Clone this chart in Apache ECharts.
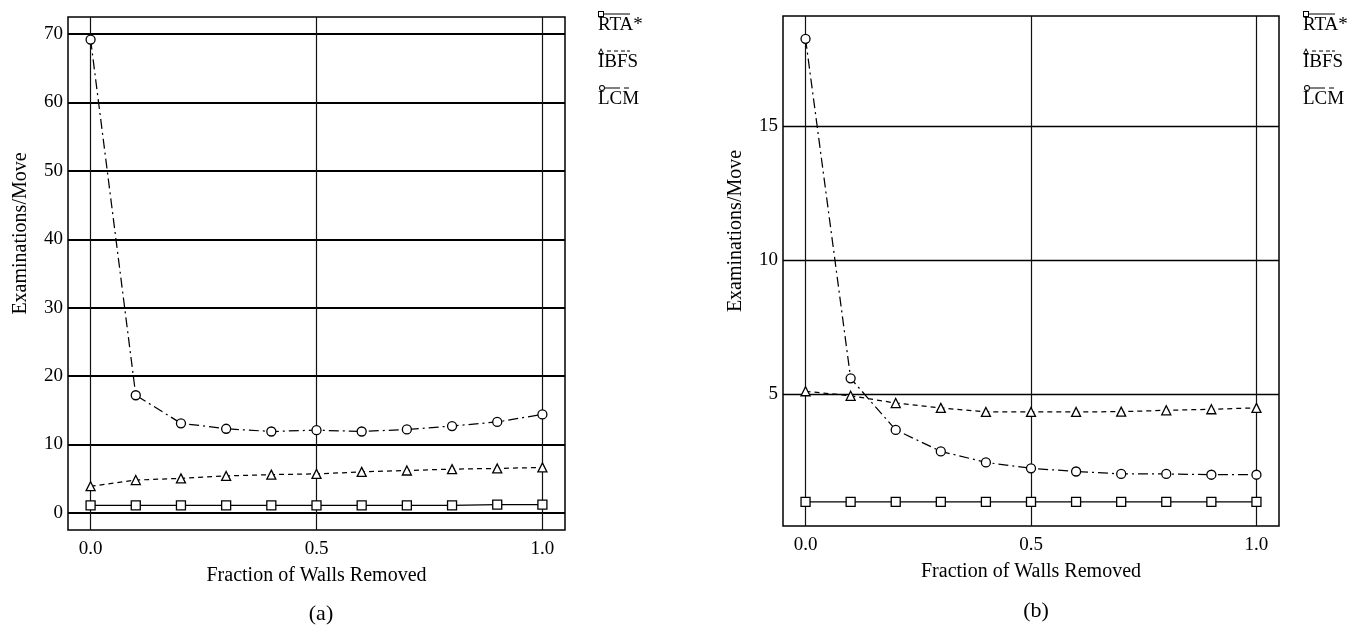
<!DOCTYPE html>
<html>
<head>
<meta charset="utf-8">
<script src="https://cdn.jsdelivr.net/npm/echarts@6/dist/echarts.min.js"></script>
<style>
html,body{margin:0;padding:0;background:#fff;}
#chart{width:1351px;height:630px;}
</style>
</head>
<body>
<div id="chart"></div>
<script>
// ---- data ----
const fractions = [0.0, 0.1, 0.2, 0.3, 0.4, 0.5, 0.6, 0.7, 0.8, 0.9, 1.0];
const seriesNames = ['RTA*', 'IBFS', 'LCM'];
// panel (a)
const aRTA  = [1.1, 1.1, 1.1, 1.1, 1.1, 1.1, 1.1, 1.1, 1.1, 1.2, 1.2];
const aIBFS = [3.9, 4.8, 5.05, 5.4, 5.6, 5.7, 6.0, 6.2, 6.4, 6.5, 6.65];
const aLCM  = [69.2, 17.2, 13.1, 12.3, 11.9, 12.1, 11.9, 12.2, 12.7, 13.3, 14.4];
// panel (b)
const bRTA  = [1.0, 1.0, 1.0, 1.0, 1.0, 1.0, 1.0, 1.0, 1.0, 1.0, 1.0];
const bIBFS = [5.12, 4.95, 4.68, 4.5, 4.35, 4.35, 4.35, 4.36, 4.41, 4.45, 4.5];
const bLCM  = [18.25, 5.6, 3.68, 2.88, 2.47, 2.25, 2.13, 2.04, 2.04, 2.01, 2.01];
// ticks
const xTicks = [0, 0.5, 1.0];
const aYTicks = [0, 10, 20, 30, 40, 50, 60, 70];
const bYTicks = [5, 10, 15];
const panelLabels = ['(a)', '(b)'];
const xTitle = 'Fraction of Walls Removed';
const yTitle = 'Examinations/Move';

const FONT = '"Liberation Serif", "DejaVu Serif", serif';
const pairs = ys => fractions.map((x, i) => [x, ys[i]]);

const styles = {
  'RTA*': {symbol: 'rect', dash: 'solid',
    icon: 'path://M0,0H6V6H0Z M1,1V5H5V1Z M6,2.4H32V3.6H6Z'},
  'IBFS': {symbol: 'triangle', dash: [5, 4],
    icon: 'path://M3,0L6,6H0Z M3,2.2L1.4,5H4.6Z M9,2.4H13V3.6H9Z M16,2.4H20V3.6H16Z M23,2.4H27V3.6H23Z M29,2.4H32V3.6H29Z'},
  'LCM':  {symbol: 'circle', dash: [10, 4, 2, 4],
    icon: 'path://M0,3A3,3 0 1,1 6,3A3,3 0 1,1 0,3Z M1,3A2,2 0 1,0 5,3A2,2 0 1,0 1,3Z M6,2.4H21V3.6H6Z M25,2.4H30V3.6H25Z'}
};

function mkSeries(name, ys, idx) {
  const s = styles[name];
  return {
    name: name, type: 'line', xAxisIndex: idx, yAxisIndex: idx,
    data: pairs(ys),
    symbol: s.symbol, symbolSize: 9, showSymbol: true,
    itemStyle: {color: '#fff', borderColor: '#000', borderWidth: 1.3},
    lineStyle: {color: '#000', width: 1.25, type: s.dash},
    emphasis: {disabled: true}, animation: false, z: 5
  };
}

function xAxis(idx) {
  return {
    type: 'value', gridIndex: idx, min: -0.05, max: 1.05,
    axisLine: {show: false}, axisTick: {show: false, customValues: xTicks},
    axisLabel: {customValues: xTicks, formatter: v => v.toFixed(1), color: '#000',
      fontFamily: FONT, fontSize: 19, margin: 10},
    splitLine: {show: true, lineStyle: {color: '#111', width: 1.2}},
    name: xTitle, nameLocation: 'middle', nameGap: 36,
    nameTextStyle: {color: '#000', fontFamily: FONT, fontSize: 20}
  };
}

function yAxis(idx, min, max, ticks, w) {
  return {
    type: 'value', gridIndex: idx, min: min, max: max,
    axisLine: {show: false}, axisTick: {show: false, customValues: ticks},
    axisLabel: {customValues: ticks, color: '#000', fontFamily: FONT, fontSize: 19, margin: 5},
    splitLine: {show: true, lineStyle: {color: '#000', width: w}},
    name: yTitle, nameLocation: 'middle', nameGap: 37, nameRotate: 90,
    nameTextStyle: {color: '#000', fontFamily: FONT, fontSize: 20, padding: [0, 0, 0, 80]}
  };
}

function legend(left) {
  return {
    orient: 'vertical', left: left, top: -13, itemWidth: 32, itemHeight: 6, itemGap: -7,
    data: seriesNames.map(n => ({name: n, icon: styles[n].icon})),
    itemStyle: {color: '#000', borderWidth: 0},
    formatter: n => '\n' + n,
    textStyle: {color: '#000', fontFamily: FONT, fontSize: 19, lineHeight: 22, padding: [0, 0, 0, -37]},
    selectedMode: false
  };
}

const option = {
  backgroundColor: '#fff',
  animation: false,
  title: [
    {text: panelLabels[0], left: 316, top: 598, textAlign: 'center',
     textStyle: {color: '#000', fontFamily: FONT, fontSize: 22, fontWeight: 'normal'}},
    {text: panelLabels[1], left: 1031, top: 595, textAlign: 'center',
     textStyle: {color: '#000', fontFamily: FONT, fontSize: 22, fontWeight: 'normal'}}
  ],
  legend: [legend(593), legend(1298)],
  grid: [
    {left: 68, top: 17, width: 497, height: 513, show: true, borderColor: '#000', borderWidth: 1.5, backgroundColor: 'transparent'},
    {left: 783, top: 16, width: 496, height: 510, show: true, borderColor: '#000', borderWidth: 1.5, backgroundColor: 'transparent'}
  ],
  xAxis: [xAxis(0), xAxis(1)],
  yAxis: [yAxis(0, -2.5, 72.5, aYTicks, 1.8), yAxis(1, 0.1, 19.1, bYTicks, 1.4)],
  series: [
    mkSeries('RTA*', aRTA, 0), mkSeries('IBFS', aIBFS, 0), mkSeries('LCM', aLCM, 0),
    mkSeries('RTA*', bRTA, 1), mkSeries('IBFS', bIBFS, 1), mkSeries('LCM', bLCM, 1)
  ]
};

const chart = echarts.init(document.getElementById('chart'), null, {renderer: 'canvas'});
chart.setOption(option);
</script>
</body>
</html>
